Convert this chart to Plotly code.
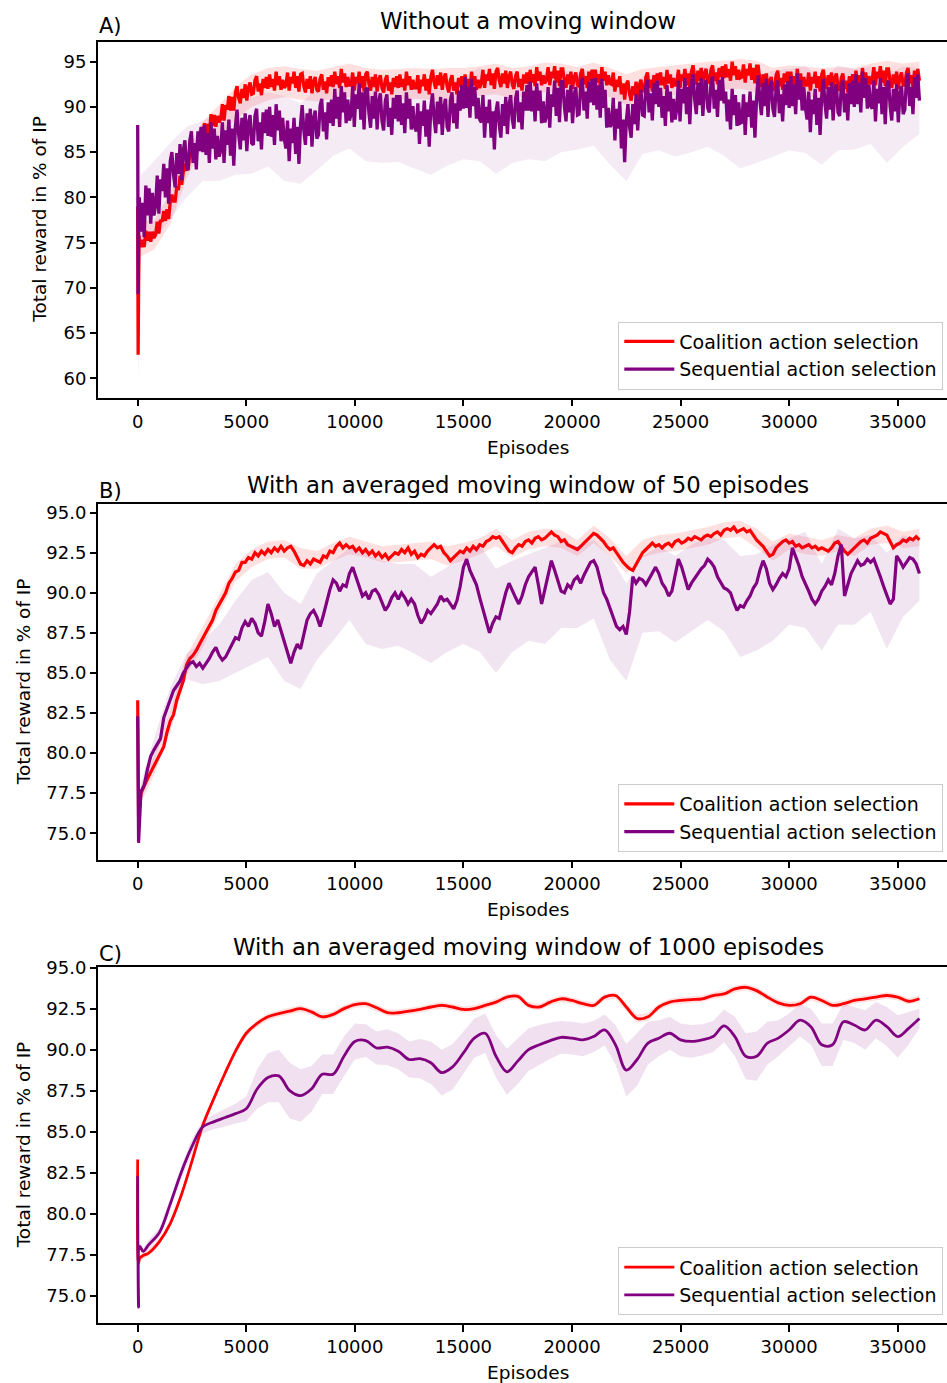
import plotly.graph_objects as go

W, H = 947, 1383

RED = "#ff0000"
PURPLE = "#800080"
RED_BAND = "rgba(255,0,0,0.12)"
PURPLE_BAND = "rgba(128,0,128,0.10)"
FONT = "DejaVu Sans"

LABEL_COALITION = "Coalition action selection"
LABEL_SEQUENTIAL = "Sequential action selection"

# ---------------- A) without a moving window ----------------
a_episodes = [0, 20, 60] + list(range(75, 36001, 75))
a_coalition = [79.0, 62.6, 75.8,
    75.4, 74.5, 75.3, 74.5, 76.3, 75.2, 76.2, 75.1, 76.2, 75.5,
    75.9, 77.3, 76.0, 77.5, 77.3, 78.5, 77.4, 78.7, 77.6, 79.5,
    80.3, 79.6, 79.6, 81.2, 80.8, 82.4, 81.4, 82.8, 83.7, 83.1,
    83.2, 84.9, 85.7, 84.5, 85.7, 84.8, 86.8, 86.2, 87.7, 86.8,
    88.2, 87.0, 88.1, 87.0, 89.2, 87.9, 89.1, 87.8, 89.0, 88.3,
    88.7, 90.3, 88.5, 90.2, 89.7, 91.2, 89.6, 91.1, 89.6, 91.6,
    92.3, 91.0, 90.4, 92.0, 91.0, 92.5, 90.7, 92.1, 92.7, 91.4,
    91.5, 92.9, 93.4, 91.7, 92.6, 91.3, 93.1, 92.1, 93.3, 92.0,
    93.6, 92.2, 93.1, 91.8, 93.9, 92.4, 93.4, 91.9, 93.0, 92.1,
    92.4, 93.8, 91.8, 93.3, 92.6, 93.9, 92.1, 93.4, 91.7, 93.6,
    93.7, 92.3, 91.6, 93.1, 92.0, 93.4, 91.5, 92.8, 93.3, 91.9,
    91.7, 93.1, 93.6, 91.9, 92.8, 91.5, 93.3, 92.3, 93.5, 92.2,
    93.9, 92.5, 93.4, 92.1, 94.2, 92.7, 93.7, 92.2, 93.3, 92.4,
    92.4, 93.8, 91.8, 93.3, 92.6, 93.9, 92.1, 93.4, 91.7, 93.6,
    93.9, 92.5, 91.8, 93.3, 92.2, 93.6, 91.7, 93.0, 93.5, 92.1,
    91.6, 93.0, 93.5, 91.8, 92.7, 91.4, 93.2, 92.2, 93.4, 92.1,
    93.6, 92.2, 93.1, 91.8, 93.9, 92.4, 93.4, 91.9, 93.0, 92.1,
    92.1, 93.5, 91.5, 93.0, 92.3, 93.6, 91.8, 93.1, 91.4, 93.3,
    94.1, 92.7, 92.0, 93.5, 92.4, 93.8, 91.9, 93.2, 93.7, 92.3,
    91.6, 93.0, 93.5, 91.8, 92.7, 91.4, 93.2, 92.2, 93.4, 92.1,
    93.6, 92.2, 93.1, 91.8, 93.9, 92.4, 93.4, 91.9, 93.0, 92.1,
    92.7, 94.1, 92.1, 93.6, 92.9, 94.2, 92.4, 93.7, 92.0, 93.9,
    94.3, 92.9, 92.2, 93.7, 92.6, 94.0, 92.1, 93.4, 93.9, 92.5,
    92.0, 93.4, 93.9, 92.2, 93.1, 91.8, 93.6, 92.6, 93.8, 92.5,
    94.1, 92.7, 93.6, 92.3, 94.4, 92.9, 93.9, 92.4, 93.5, 92.6,
    93.0, 94.4, 92.4, 93.9, 93.2, 94.5, 92.7, 94.0, 92.3, 94.2,
    94.2, 92.8, 92.1, 93.6, 92.5, 93.9, 92.0, 93.3, 93.8, 92.4,
    92.3, 93.7, 94.2, 92.5, 93.4, 92.1, 93.9, 92.9, 94.1, 92.8,
    94.1, 92.7, 93.6, 92.3, 94.4, 92.9, 93.9, 92.4, 93.5, 92.6,
    92.5, 93.8, 91.7, 93.0, 92.2, 93.4, 91.4, 92.6, 90.8, 92.5,
    92.9, 91.4, 90.7, 92.3, 91.3, 92.8, 91.0, 92.4, 93.0, 91.7,
    91.9, 93.3, 93.8, 92.1, 93.0, 91.7, 93.5, 92.5, 93.7, 92.4,
    93.8, 92.4, 93.3, 92.0, 94.1, 92.6, 93.6, 92.1, 93.2, 92.3,
    92.7, 94.1, 92.1, 93.6, 92.9, 94.2, 92.4, 93.7, 92.0, 93.9,
    94.6, 93.2, 92.5, 94.0, 92.9, 94.3, 92.4, 93.7, 94.2, 92.8,
    92.7, 94.1, 94.6, 92.9, 93.8, 92.5, 94.3, 93.3, 94.5, 93.2,
    94.7, 93.3, 94.2, 92.9, 95.0, 93.5, 94.5, 93.0, 94.1, 93.2,
    93.3, 94.7, 92.7, 94.2, 93.5, 94.8, 93.0, 94.3, 92.6, 94.5,
    94.5, 93.0, 92.2, 93.6, 92.4, 93.7, 91.7, 92.9, 93.3, 91.8,
    92.1, 93.5, 94.0, 92.3, 93.2, 91.9, 93.7, 92.7, 93.9, 92.6,
    93.9, 92.5, 93.4, 92.1, 94.2, 92.7, 93.7, 92.2, 93.3, 92.4,
    92.4, 93.8, 91.8, 93.3, 92.6, 93.9, 92.1, 93.4, 91.7, 93.6,
    94.1, 92.7, 92.0, 93.5, 92.4, 93.8, 91.9, 93.2, 93.7, 92.3,
    91.8, 93.2, 93.7, 92.0, 92.9, 91.6, 93.4, 92.4, 93.6, 92.3,
    94.0, 92.6, 93.5, 92.2, 94.3, 92.8, 93.8, 92.3, 93.4, 92.5,
    93.0, 94.4, 92.4, 93.9, 93.2, 94.5, 92.7, 94.0, 92.3, 94.2,
    94.2, 92.8, 92.1, 93.6, 92.5, 93.9, 92.0, 93.3, 93.8, 92.4,
    92.4, 93.8, 94.3, 92.6, 93.5, 92.2, 94.0, 93.0, 94.2, 92.9]
a_sequential = [88.0, 69.3, 79.5,
    80.0, 76.2, 79.4, 75.6, 81.3, 78.0, 81.0, 77.1, 80.5, 78.0,
    79.1, 82.4, 78.2, 82.0, 80.7, 83.7, 80.0, 83.2, 79.3, 84.0,
    85.0, 82.5, 81.1, 84.9, 82.6, 85.9, 81.9, 85.2, 86.3, 83.4,
    83.0, 86.3, 87.3, 83.8, 86.0, 83.1, 87.3, 85.1, 87.8, 85.0,
    88.0, 84.7, 87.1, 83.8, 88.3, 85.4, 87.6, 84.2, 86.8, 84.5,
    85.2, 88.3, 83.8, 87.4, 85.8, 88.6, 84.6, 87.6, 83.5, 87.9,
    89.7, 86.9, 85.3, 88.8, 86.3, 89.3, 85.1, 88.2, 89.1, 86.0,
    85.8, 89.0, 89.8, 86.2, 88.3, 85.3, 89.4, 87.1, 89.7, 86.8,
    90.0, 86.7, 89.1, 85.8, 90.3, 87.4, 89.6, 86.2, 88.8, 86.5,
    85.4, 88.5, 84.0, 87.6, 86.0, 88.8, 84.8, 87.8, 83.7, 88.1,
    90.2, 87.4, 85.8, 89.3, 86.8, 89.8, 85.6, 88.7, 89.6, 86.5,
    86.9, 90.1, 90.9, 87.3, 89.4, 86.4, 90.5, 88.2, 90.8, 87.9,
    92.0, 88.7, 91.1, 87.8, 92.3, 89.4, 91.6, 88.2, 90.8, 88.5,
    89.2, 92.3, 87.8, 91.4, 89.8, 92.6, 88.6, 91.6, 87.5, 91.9,
    92.1, 89.3, 87.7, 91.2, 88.7, 91.7, 87.5, 90.6, 91.5, 88.4,
    87.4, 90.6, 91.4, 87.8, 89.9, 86.9, 91.0, 88.7, 91.3, 88.4,
    91.3, 88.0, 90.4, 87.1, 91.6, 88.7, 90.9, 87.5, 90.1, 87.8,
    87.3, 90.4, 85.9, 89.5, 87.9, 90.7, 86.7, 89.7, 85.6, 90.0,
    91.5, 88.7, 87.1, 90.6, 88.1, 91.1, 86.9, 90.0, 90.9, 87.8,
    87.3, 90.7, 91.6, 88.2, 90.4, 87.6, 91.8, 89.6, 92.4, 89.8,
    93.3, 89.9, 92.2, 88.8, 93.1, 90.1, 92.2, 88.7, 91.0, 88.6,
    88.3, 91.3, 86.6, 90.0, 88.2, 90.8, 86.6, 89.5, 85.3, 89.5,
    90.6, 88.0, 86.6, 90.3, 87.9, 91.1, 87.0, 90.2, 91.3, 88.6,
    87.6, 90.9, 91.8, 88.3, 90.5, 87.5, 91.7, 89.6, 92.4, 89.6,
    92.8, 89.5, 91.8, 88.4, 92.6, 89.6, 91.8, 88.2, 90.6, 88.3,
    89.0, 92.2, 87.7, 91.4, 90.0, 92.9, 89.0, 92.1, 88.3, 92.8,
    92.8, 90.0, 88.4, 91.9, 89.4, 92.4, 88.2, 91.3, 92.2, 89.1,
    89.2, 92.4, 93.2, 89.6, 91.7, 88.7, 92.8, 90.5, 93.1, 90.2,
    93.2, 89.7, 92.4, 88.8, 93.1, 89.9, 91.9, 87.7, 89.9, 87.8,
    88.1, 91.0, 86.3, 89.8, 87.6, 90.6, 85.4, 88.6, 83.9, 88.4,
    90.3, 87.8, 86.6, 90.3, 88.1, 91.4, 87.4, 90.6, 91.9, 89.1,
    89.0, 92.2, 93.0, 89.4, 91.5, 88.5, 92.6, 90.3, 92.9, 90.0,
    92.1, 88.8, 91.2, 87.9, 92.4, 89.5, 91.7, 88.3, 90.9, 88.6,
    89.8, 92.9, 88.4, 92.0, 90.4, 93.2, 89.2, 92.2, 88.1, 92.5,
    93.6, 90.8, 89.2, 92.7, 90.2, 93.2, 89.0, 92.1, 93.0, 89.9,
    89.4, 92.6, 93.4, 89.8, 91.9, 88.9, 93.0, 90.7, 93.3, 90.4,
    91.7, 88.4, 90.8, 87.5, 92.0, 89.1, 91.3, 87.9, 90.5, 88.2,
    88.3, 91.4, 86.9, 90.5, 88.9, 91.7, 87.7, 90.7, 86.6, 91.0,
    93.5, 90.7, 89.1, 92.6, 90.1, 93.1, 88.9, 92.0, 92.9, 89.8,
    88.9, 92.1, 92.9, 89.3, 91.4, 88.4, 92.5, 90.2, 92.8, 89.9,
    93.4, 90.1, 92.5, 89.2, 93.7, 90.8, 93.0, 89.6, 92.2, 89.9,
    88.6, 91.7, 87.2, 90.8, 89.2, 92.0, 88.0, 91.0, 86.9, 91.3,
    93.1, 90.3, 88.7, 92.2, 89.7, 92.7, 88.5, 91.6, 92.5, 89.4,
    89.0, 92.2, 93.0, 89.4, 91.5, 88.5, 92.6, 90.3, 92.9, 90.0,
    93.6, 90.3, 92.7, 89.4, 93.9, 91.0, 93.2, 89.8, 92.4, 90.1,
    89.8, 92.9, 88.4, 92.0, 90.4, 93.2, 89.2, 92.2, 88.1, 92.5,
    92.9, 90.1, 88.5, 92.0, 89.5, 92.5, 88.3, 91.4, 92.3, 89.2,
    89.7, 92.9, 93.7, 90.1, 92.2, 89.2, 93.3, 91.0, 93.6, 90.7]

a_band_episodes = [20, 150] + list(range(750, 36001, 750))
a_coalition_lo = [59.6, 73.5, 74.2, 77.0, 82.1, 85.6, 86.8, 88.6, 90.0, 90.7,
    91.1, 90.8, 90.6, 90.9, 91.1, 90.8, 90.7, 90.8, 90.9, 90.8,
    90.5, 90.7, 91.2, 91.4, 90.9, 91.3, 91.6, 91.6, 91.3, 91.5,
    91.1, 90.2, 90.6, 91.2, 91.3, 91.5, 91.7, 91.9, 92.0, 91.6,
    90.9, 91.3, 91.1, 91.0, 91.0, 90.9, 91.5, 91.7, 91.3, 91.6]
a_coalition_hi = [66.0, 77.5, 77.4, 80.5, 85.0, 88.4, 90.2, 92.2, 93.6, 94.3,
    94.5, 94.2, 94.0, 94.4, 94.8, 94.3, 94.1, 94.2, 94.3, 94.2,
    94.3, 94.3, 94.5, 94.8, 94.3, 94.5, 94.9, 94.8, 94.4, 94.9,
    94.3, 93.6, 94.2, 94.4, 94.6, 94.8, 95.0, 95.1, 95.3, 95.1,
    94.3, 94.6, 94.4, 94.3, 94.4, 94.3, 94.8, 95.1, 94.8, 95.0]
a_sequential_lo = [67.5, 74.5, 75.2, 77.6, 80.0, 81.8, 81.8, 82.5, 82.6, 83.4,
    81.8, 81.5, 83.0, 84.6, 85.4, 84.0, 83.8, 83.9, 83.2, 82.5,
    83.5, 84.2, 84.0, 82.6, 83.8, 84.2, 84.0, 85.0, 85.3, 85.7,
    83.6, 81.8, 84.8, 85.2, 84.5, 85.0, 85.6, 84.6, 83.2, 83.8,
    84.5, 85.2, 84.9, 83.6, 85.2, 85.3, 85.9, 83.8, 85.6, 87.0]
a_sequential_hi = [89.0, 82.5, 84.0, 86.0, 87.8, 88.5, 89.2, 90.2, 91.0, 91.6,
    91.2, 90.4, 92.0, 93.0, 93.6, 93.0, 92.8, 92.7, 92.3, 91.8,
    92.4, 93.2, 94.4, 92.4, 93.0, 93.3, 93.8, 94.0, 93.8, 94.2,
    93.5, 91.5, 93.4, 93.9, 93.6, 94.0, 94.5, 94.0, 93.2, 93.5,
    94.0, 94.2, 94.6, 93.0, 94.6, 94.2, 94.5, 93.7, 94.5, 94.3]

# ---------------- B) moving window of 50 episodes ----------------
b_episodes = [0, 40] + list(range(150, 36001, 150))
b_coalition = [83.3, 76.0,
    77.5, 78.0, 78.4, 78.8, 79.2, 79.6, 80.0, 80.4, 81.3, 82.0,
    82.4, 83.3, 83.9, 84.5, 85.5, 85.9, 86.1, 86.4, 86.8, 87.2,
    87.6, 88.0, 88.3, 88.9, 89.3, 89.6, 90.0, 90.6, 90.9, 91.3,
    91.4, 91.9, 91.9, 92.2, 92.1, 92.5, 92.3, 92.6, 92.4, 92.7,
    92.5, 92.8, 92.6, 92.9, 92.6, 92.8, 92.9, 92.6, 92.2, 91.8,
    91.7, 92.0, 91.8, 92.1, 92.0, 91.9, 92.3, 92.2, 92.6, 92.5,
    92.9, 93.1, 92.8, 93.0, 92.8, 92.9, 92.6, 92.8, 92.5, 92.7,
    92.4, 92.6, 92.3, 92.5, 92.2, 92.4, 92.1, 92.3, 92.5, 92.4,
    92.7, 92.5, 92.8, 92.4, 92.6, 92.2, 92.4, 92.3, 92.6, 92.8,
    93.0, 92.8, 92.9, 92.5, 92.3, 92.0, 92.2, 92.4, 92.6, 92.5,
    92.8, 92.6, 92.9, 92.7, 93.0, 92.9, 93.2, 93.3, 93.5, 93.4,
    93.5, 93.2, 92.9, 92.6, 92.5, 92.8, 93.0, 92.9, 93.2, 93.3,
    93.1, 93.4, 93.5, 93.3, 93.4, 93.6, 93.8, 93.6, 93.5, 93.2,
    93.3, 93.0, 92.9, 92.8, 92.7, 92.9, 93.1, 93.3, 93.5, 93.7,
    93.6, 93.4, 93.2, 92.9, 92.7, 92.8, 92.5, 92.2, 91.9, 91.7,
    91.5, 91.4, 91.8, 92.2, 92.5, 92.7, 92.9, 93.1, 92.9, 93.0,
    92.8, 93.0, 93.1, 92.9, 93.2, 93.3, 93.1, 93.2, 93.4, 93.3,
    93.5, 93.4, 93.3, 93.5, 93.6, 93.5, 93.7, 93.8, 93.6, 93.9,
    94.0, 93.9, 94.1, 93.8, 93.9, 94.0, 93.8, 93.9, 93.6, 93.3,
    93.1, 92.9, 92.6, 92.3, 92.4, 92.8, 93.0, 93.2, 93.3, 93.1,
    93.2, 92.9, 93.0, 92.8, 92.9, 93.0, 92.8, 92.9, 92.7, 92.8,
    92.7, 92.6, 92.8, 93.1, 93.2, 92.9, 92.6, 92.4, 92.6, 92.8,
    93.0, 93.2, 93.3, 93.1, 93.4, 93.5, 93.6, 93.8, 93.7, 93.6,
    93.2, 92.8, 93.0, 93.1, 93.3, 93.2, 93.4, 93.3, 93.5, 93.3]
b_sequential = [82.3, 74.4,
    77.6, 78.0, 79.0, 79.8, 80.2, 80.6, 80.9, 82.2, 82.8, 83.3,
    83.9, 84.2, 84.5, 85.0, 85.3, 85.6, 85.7, 85.4, 85.6, 85.3,
    85.6, 85.9, 86.3, 86.6, 86.1, 85.8, 86.0, 86.4, 86.8, 87.2,
    87.1, 87.8, 88.2, 87.9, 88.4, 88.1, 87.5, 87.3, 88.2, 89.3,
    88.7, 87.9, 88.3, 87.6, 87.0, 86.2, 85.6, 86.3, 86.8, 86.5,
    87.4, 88.3, 88.7, 88.9, 88.5, 87.9, 88.6, 89.5, 90.2, 90.8,
    90.6, 90.1, 90.5, 90.4, 91.2, 91.6, 91.0, 90.3, 89.8, 90.0,
    89.6, 90.1, 90.2, 89.9, 89.4, 88.9, 89.2, 89.7, 90.0, 89.6,
    90.0, 89.7, 89.3, 89.6, 89.3, 88.6, 88.1, 88.4, 88.9, 88.7,
    89.0, 89.3, 89.8, 89.5, 89.6, 89.3, 89.0, 89.5, 90.4, 91.6,
    92.1, 91.4, 91.0, 90.5, 89.7, 88.9, 88.3, 87.5, 88.1, 88.5,
    88.4, 89.3, 90.0, 90.6, 90.1, 89.7, 89.3, 89.8, 90.5, 91.0,
    91.3, 91.6, 90.5, 89.3, 90.2, 91.2, 92.0, 91.4, 90.7, 90.1,
    90.0, 90.5, 90.3, 90.8, 91.0, 90.6, 91.1, 91.5, 91.9, 92.0,
    91.6, 90.8, 90.0, 89.6, 89.0, 88.4, 87.9, 87.7, 87.9, 87.4,
    88.8, 91.0, 90.6, 90.9, 90.8, 90.5, 90.9, 91.3, 91.6, 91.2,
    90.6, 90.3, 89.8, 90.1, 91.0, 92.1, 91.6, 90.9, 90.2, 90.6,
    90.9, 91.2, 91.5, 91.7, 92.1, 91.9, 91.6, 91.0, 90.6, 90.3,
    90.2, 90.0, 89.4, 88.9, 89.2, 89.1, 89.5, 89.8, 90.3, 90.6,
    91.4, 92.0, 91.5, 90.6, 90.2, 90.5, 90.9, 91.2, 91.0, 91.5,
    92.8, 92.3, 91.7, 91.0, 90.6, 90.1, 89.6, 89.3, 89.6, 90.1,
    90.4, 90.8, 90.5, 91.2, 92.3, 93.0, 89.8, 90.6, 91.2, 91.6,
    92.0, 91.7, 91.8, 92.1, 91.9, 92.1, 91.6, 91.0, 90.4, 89.8,
    89.3, 89.6, 92.3, 92.0, 91.6, 91.9, 92.2, 92.1, 91.8, 91.2]

b_band_episodes = [150] + list(range(750, 36001, 750))
b_coalition_lo = [76.9, 78.6, 81.3, 84.9, 86.6, 88.7, 90.7, 91.6, 92.1, 92.2,
    91.5, 91.5, 92.0, 92.4, 92.2, 91.9, 91.9, 92.0, 92.1, 91.7,
    92.0, 92.4, 92.9, 92.2, 92.7, 92.9, 92.8, 92.3, 93.1, 92.3,
    91.2, 92.2, 92.5, 92.6, 92.8, 93.0, 93.4, 93.5, 92.8, 92.0,
    92.7, 92.4, 92.3, 92.6, 92.3, 93.0, 93.1, 92.8, 92.9]
b_coalition_hi = [78.0, 79.8, 82.6, 86.1, 87.9, 89.8, 91.8, 92.7, 93.2, 93.3,
    92.8, 92.6, 93.1, 93.5, 93.2, 92.9, 93.0, 93.1, 93.2, 92.9,
    93.1, 93.4, 94.0, 93.3, 93.8, 94.0, 93.9, 93.3, 94.2, 93.4,
    92.3, 93.3, 93.6, 93.7, 93.9, 94.1, 94.4, 94.5, 94.0, 93.2,
    93.7, 93.5, 93.3, 93.6, 93.4, 94.0, 94.2, 93.8, 94.0]
b_sequential_lo = [77.0, 79.5, 82.5, 84.6, 84.3, 84.5, 85.0, 85.5, 86.0, 84.5,
    84.0, 85.8, 87.0, 88.3, 86.8, 86.5, 86.7, 86.2, 85.6, 86.3,
    86.8, 86.3, 85.0, 86.3, 87.0, 86.8, 87.8, 87.8, 88.4, 85.8,
    84.5, 87.5, 87.6, 86.9, 87.6, 88.3, 87.6, 86.0, 86.4, 87.0,
    88.0, 87.8, 86.4, 88.0, 88.0, 88.8, 86.5, 88.5, 89.5]
b_sequential_hi = [78.2, 80.9, 84.1, 86.2, 87.0, 88.0, 89.5, 90.8, 91.3, 90.0,
    89.3, 91.2, 92.0, 92.8, 92.5, 92.0, 91.8, 91.8, 91.0, 91.6,
    92.6, 93.0, 91.5, 92.0, 92.4, 92.8, 93.2, 92.9, 93.3, 92.3,
    90.6, 92.3, 92.9, 92.3, 93.0, 93.5, 93.3, 92.3, 92.4, 93.0,
    93.4, 93.8, 91.8, 94.0, 93.4, 93.6, 92.5, 93.6, 93.2]

# ---------------- C) moving window of 1000 episodes ----------------
c_episodes = [0, 40, 100, 250] + list(range(500, 36001, 500))
c_coalition = [83.3, 76.98, 77.3, 77.45,
    77.6, 78.3, 79.4, 81.1, 83.2, 85.4, 87.0, 88.5, 89.9, 91.0,
    91.6, 92.0, 92.2, 92.35, 92.5, 92.3, 92.0, 92.15, 92.5, 92.75,
    92.8, 92.55, 92.25, 92.25, 92.35, 92.45, 92.6, 92.7, 92.6, 92.45,
    92.5, 92.7, 92.9, 93.2, 93.25, 92.7, 92.6, 92.9, 93.1, 93.0,
    92.8, 92.7, 93.2, 93.3, 92.6, 91.9, 92.0, 92.6, 92.9, 93.0,
    93.05, 93.1, 93.3, 93.4, 93.7, 93.8, 93.6, 93.2, 92.85, 92.7,
    92.8, 93.2, 93.0, 92.7, 92.8, 93.0, 93.1, 93.2, 93.3, 93.2,
    92.95, 93.1]
c_sequential = [82.3, 74.3, 78.0, 77.7,
    78.1, 78.85, 80.6, 82.5, 84.1, 85.3, 85.6, 85.85, 86.1, 86.4,
    87.6, 88.3, 88.4, 87.5, 87.2, 87.6, 88.5, 88.5, 89.6, 90.5,
    90.55, 90.1, 90.15, 89.9, 89.4, 89.45, 89.2, 88.6, 88.95, 89.8,
    90.7, 91.0, 89.6, 88.65, 89.3, 90.0, 90.3, 90.55, 90.75, 90.7,
    90.6, 90.8, 91.2, 90.3, 88.75, 89.4, 90.4, 90.7, 91.0, 90.6,
    90.5, 90.6, 90.8, 91.45, 90.8, 89.6, 89.6, 90.4, 90.7, 91.2,
    91.8, 91.4, 90.3, 90.3, 91.7, 91.5, 91.2, 91.8, 91.4, 90.8,
    91.3, 91.9]
c_coalition_spread = [0.15, 0.15, 0.15, 0.15,
    0.2, 0.2, 0.2, 0.2, 0.2, 0.2, 0.2, 0.2, 0.2, 0.2,
    0.2, 0.2, 0.2, 0.2, 0.2, 0.2, 0.2, 0.2, 0.2, 0.2,
    0.2, 0.2, 0.2, 0.2, 0.2, 0.2, 0.2, 0.2, 0.2, 0.2,
    0.2, 0.2, 0.2, 0.2, 0.2, 0.2, 0.2, 0.2, 0.2, 0.2,
    0.2, 0.2, 0.2, 0.2, 0.25, 0.25, 0.25, 0.2, 0.2, 0.2,
    0.2, 0.2, 0.2, 0.2, 0.2, 0.2, 0.2, 0.2, 0.2, 0.2,
    0.2, 0.2, 0.2, 0.2, 0.2, 0.2, 0.2, 0.2, 0.2, 0.2,
    0.2, 0.2]
c_sequential_spread = [0.2, 0.2, 0.2, 0.2,
    0.3, 0.3, 0.35, 0.4, 0.45, 0.4, 0.45, 0.55, 0.6, 0.75,
    1.2, 1.5, 1.6, 1.7, 1.6, 1.4, 1.2, 1.2, 1.2, 1.1,
    1.0, 1.0, 1.1, 1.1, 1.1, 1.2, 1.3, 1.4, 1.4, 1.3,
    1.2, 1.2, 1.3, 1.4, 1.4, 1.3, 1.2, 1.1, 1.0, 1.0,
    1.0, 0.95, 0.95, 1.2, 1.6, 1.6, 1.3, 1.1, 1.0, 1.0,
    1.0, 0.95, 0.95, 1.0, 1.2, 1.4, 1.5, 1.3, 1.1, 1.0,
    1.0, 1.1, 1.3, 1.3, 1.1, 1.1, 1.2, 1.1, 1.2, 1.3,
    1.0, 0.6]

for xs, *ys in [
    (a_episodes, a_coalition, a_sequential),
    (a_band_episodes, a_coalition_lo, a_coalition_hi, a_sequential_lo, a_sequential_hi),
    (b_episodes, b_coalition, b_sequential),
    (b_band_episodes, b_coalition_lo, b_coalition_hi, b_sequential_lo, b_sequential_hi),
    (c_episodes, c_coalition, c_sequential, c_coalition_spread, c_sequential_spread),
]:
    for y in ys:
        assert len(y) == len(xs), (len(xs), len(y))

TITLES = ["Without a moving window",
          "With an averaged moving window of 50 episodes",
          "With an averaged moving window of 1000 episodes"]
PANEL_TAGS = ["A)", "B)", "C)"]
Y_LABEL = "Total reward in % of IP"
X_LABEL = "Episodes"

# pixel geometry of the three axes boxes (top, bottom) and x extent
AX_LEFT = 98.3
BOXES = [(41.7, 397.7), (504.3, 860.0), (967.3, 1323.3)]
Y_RANGES = [(57.85, 97.21), (73.33, 95.52), (73.32, 95.02)]
X_RANGE = (-1814, 37269)


def fx(px):
    return px / W


def fy(py):
    return 1 - py / H


fig = go.Figure()


def band(xs, lo, hi, color, idx, shape="linear"):
    fig.add_trace(go.Scatter(
        x=list(xs) + list(xs)[::-1], y=list(hi) + list(lo)[::-1],
        fill="toself", fillcolor=color, line=dict(width=0, shape=shape),
        mode="lines", showlegend=False, hoverinfo="skip",
        xaxis=f"x{idx}", yaxis=f"y{idx}"))


def line(xs, ys, color, name, idx, legend, width=2.8, shape="linear"):
    fig.add_trace(go.Scatter(
        x=xs, y=ys, mode="lines", name=name,
        line=dict(color=color, width=width, shape=shape),
        xaxis=f"x{idx}", yaxis=f"y{idx}", legend=legend))


# panel A
band(a_band_episodes, a_coalition_lo, a_coalition_hi, RED_BAND, 1)
line(a_episodes, a_coalition, RED, LABEL_COALITION, 1, "legend", width=3.3)
band(a_band_episodes, a_sequential_lo, a_sequential_hi, "rgba(128,0,128,0.08)", 1)
line(a_episodes, a_sequential, PURPLE, LABEL_SEQUENTIAL, 1, "legend", width=3.3)

# panel B
band(b_band_episodes, b_coalition_lo, b_coalition_hi, RED_BAND, 2)
line(b_episodes, b_coalition, RED, LABEL_COALITION, 2, "legend2", width=3.2)
band(b_band_episodes, b_sequential_lo, b_sequential_hi, PURPLE_BAND, 2)
line(b_episodes, b_sequential, PURPLE, LABEL_SEQUENTIAL, 2, "legend2", width=3.2)

# panel C: mean +/- spread
c_co_lo = [m - s for m, s in zip(c_coalition, c_coalition_spread)]
c_co_hi = [m + s for m, s in zip(c_coalition, c_coalition_spread)]
c_seq_lo = [m - s for m, s in zip(c_sequential, c_sequential_spread)]
c_seq_hi = [m + s for m, s in zip(c_sequential, c_sequential_spread)]
band(c_episodes, c_co_lo, c_co_hi, RED_BAND, 3)
line(c_episodes, c_coalition, RED, LABEL_COALITION, 3, "legend3", shape="spline")
band(c_episodes, c_seq_lo, c_seq_hi, "rgba(128,0,128,0.12)", 3)
line(c_episodes, c_sequential, PURPLE, LABEL_SEQUENTIAL, 3, "legend3", shape="spline")

tick_font = dict(family=FONT, size=18, color="black")
axis_common = dict(showgrid=False, zeroline=False, showline=True,
                   linecolor="black", linewidth=1.5, ticks="outside",
                   ticklen=6.5, tickwidth=1.5, tickcolor="black",
                   tickfont=tick_font)

layout = dict(
    width=W, height=H, margin=dict(l=0, r=0, t=0, b=0),
    paper_bgcolor="white", plot_bgcolor="white",
    font=dict(family=FONT, size=18, color="black"),
    template="none",
)

y_ticks = [
    [60, 65, 70, 75, 80, 85, 90, 95],
    [75.0, 77.5, 80.0, 82.5, 85.0, 87.5, 90.0, 92.5, 95.0],
    [75.0, 77.5, 80.0, 82.5, 85.0, 87.5, 90.0, 92.5, 95.0],
]
y_fmt = ["d", ".1f", ".1f"]
annotations = []
legend_tops = [321.5, 784.0, 1247.3]
y_label_x = [40, 23, 23]
x_label_y = [447, 909.5, 1372.5]
title_y = [21.4, 485.4, 947.1]
tag_y = [26.0, 491.0, 954.4]

for i, (top, bottom) in enumerate(BOXES):
    n = "" if i == 0 else str(i + 1)
    layout[f"xaxis{n}"] = dict(
        axis_common, domain=[fx(AX_LEFT), 1.0], range=list(X_RANGE),
        tickvals=[0, 5000, 10000, 15000, 20000, 25000, 30000, 35000],
        tickformat="d", mirror=True, anchor=f"y{n}")
    layout[f"yaxis{n}"] = dict(
        axis_common, domain=[fy(bottom), fy(top)], range=list(Y_RANGES[i]),
        tickvals=y_ticks[i], tickformat=y_fmt[i], mirror=False,
        anchor=f"x{n}")
    lg = "legend" if i == 0 else f"legend{i + 1}"
    layout[lg] = dict(
        x=fx(618.3), xanchor="left", y=fy(legend_tops[i]), yanchor="top",
        bgcolor="rgba(255,255,255,0.8)", bordercolor="#cccccc",
        borderwidth=1, font=dict(family=FONT, size=19, color="black"),
        tracegroupgap=0, itemwidth=50)
    annotations += [
        dict(text=TITLES[i], x=fx(528.4), y=fy(title_y[i]), xref="paper",
             yref="paper", xanchor="center", yanchor="middle",
             showarrow=False, font=dict(family=FONT, size=22.8, color="black")),
        dict(text=PANEL_TAGS[i], x=fx(AX_LEFT - 1), y=fy(tag_y[i]),
             xref="paper", yref="paper", xanchor="left", yanchor="middle",
             showarrow=False, font=dict(family=FONT, size=21, color="black")),
        dict(text=X_LABEL, x=fx(528.4), y=fy(x_label_y[i]), xref="paper",
             yref="paper", xanchor="center", yanchor="middle",
             showarrow=False, font=dict(family=FONT, size=18.5, color="black")),
        dict(text=Y_LABEL, x=fx(y_label_x[i]), y=fy((top + bottom) / 2),
             xref="paper", yref="paper", xanchor="center", yanchor="middle",
             textangle=-90, showarrow=False,
             font=dict(family=FONT, size=18.5, color="black")),
    ]

layout["annotations"] = annotations
fig.update_layout(**layout)
fig.write_html("out.html")
